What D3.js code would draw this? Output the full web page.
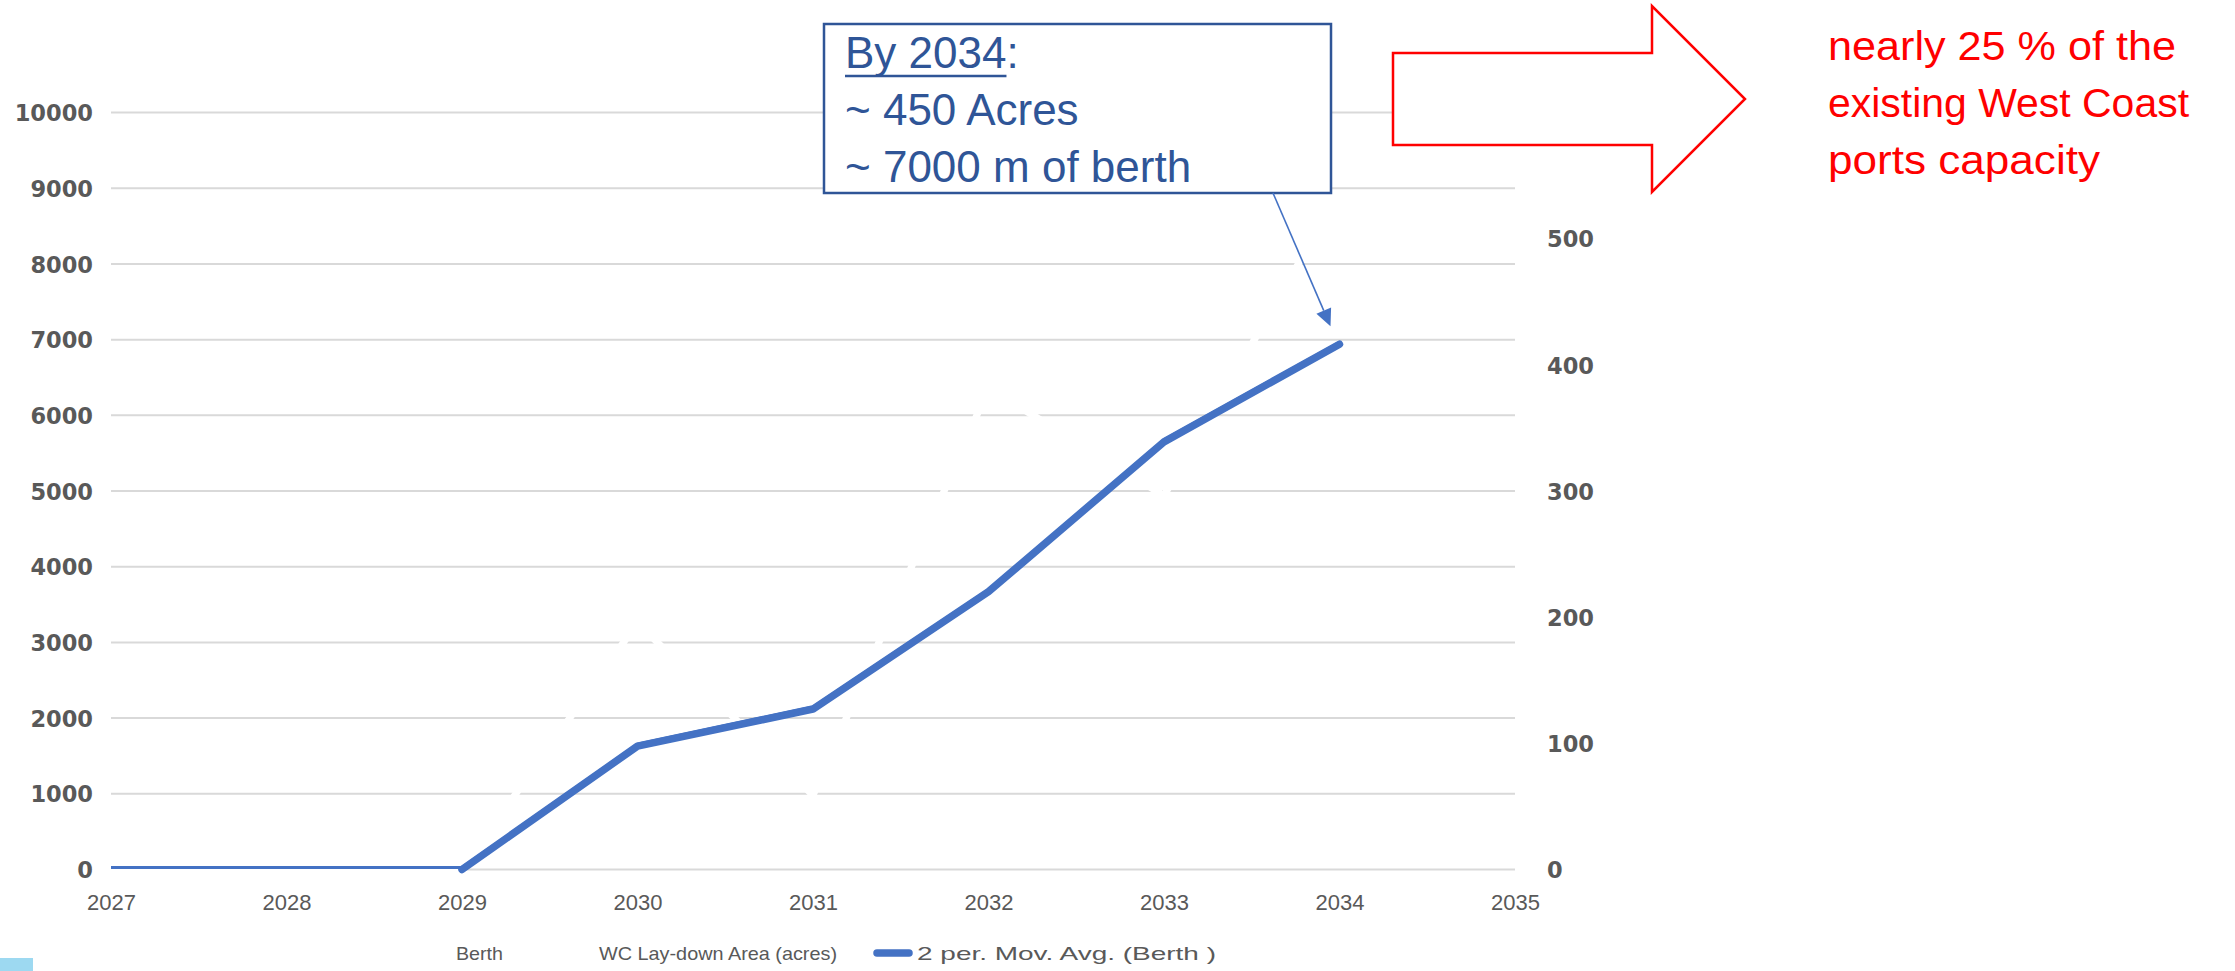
<!DOCTYPE html>
<html>
<head>
<meta charset="utf-8">
<script src="https://cdn.jsdelivr.net/npm/d3@7"></script>
<style>
  html, body { margin: 0; padding: 0; background: #ffffff; }
  svg { display: block; }
</style>
</head>
<body>
<svg id="chart" width="2235" height="971"></svg>
<script>
// ---- data ----
const years = [2027, 2028, 2029, 2030, 2031, 2032, 2033, 2034];
const berth = [0, 0, 0, 3260, 980, 6360, 4940, 8940];          // white series (left axis)
const movAvg = [0, 0, 0, 1630, 2120, 3670, 5650, 6940];        // 2-period moving average of Berth
const xTicks = [2027, 2028, 2029, 2030, 2031, 2032, 2033, 2034, 2035];
const leftTicks = [0, 1000, 2000, 3000, 4000, 5000, 6000, 7000, 8000, 9000, 10000];
const rightTicks = [0, 100, 200, 300, 400, 500, 600];
const legendLabels = ["Berth", "WC Lay-down Area (acres)", "2 per. Mov. Avg. (Berth )"];
const calloutLines = ["By 2034:", "~ 450 Acres", "~ 7000 m of berth"];
const noteLines = ["nearly 25 % of the", "existing West Coast", "ports capacity"];

const svg = d3.select("#chart");
const blue = "#4472c4";
const calloutBlue = "#2f5597";
const grey = "#595959";

// ---- scales ----
const x = d3.scaleLinear().domain([2027, 2035]).range([111, 1515]);
const yL = d3.scaleLinear().domain([0, 10000]).range([869.5, 112.6]);
const yR = d3.scaleLinear().domain([0, 600]).range([869.5, 112.6]);

// ---- gridlines ----
svg.append("g").selectAll("line").data(leftTicks).join("line")
  .attr("x1", x(2027)).attr("x2", x(2035))
  .attr("y1", d => yL(d)).attr("y2", d => yL(d))
  .attr("stroke", "#d9d9d9").attr("stroke-width", 2);

// ---- left axis ----
const leftAxis = svg.append("g").attr("transform", "translate(93,0)")
  .call(d3.axisLeft(yL).tickValues(leftTicks).tickSize(0).tickPadding(0).tickFormat(d3.format("d")));
leftAxis.select(".domain").remove();
leftAxis.selectAll("text")
  .attr("font-family", "DejaVu Sans").attr("font-weight", "bold")
  .attr("font-size", 22.5).attr("fill", grey).attr("dy", "0.36em");

// ---- right axis ----
const rightAxis = svg.append("g").attr("transform", "translate(1547,0)")
  .call(d3.axisRight(yR).tickValues(rightTicks).tickSize(0).tickPadding(0).tickFormat(d3.format("d")));
rightAxis.select(".domain").remove();
rightAxis.selectAll("text")
  .attr("font-family", "DejaVu Sans").attr("font-weight", "bold")
  .attr("font-size", 22.5).attr("fill", grey).attr("dy", "0.36em");

// ---- x axis ----
const xAxis = svg.append("g").attr("transform", "translate(0,894)")
  .call(d3.axisBottom(x).tickValues(xTicks).tickSize(0).tickPadding(0).tickFormat(d3.format("d")));
xAxis.select(".domain").remove();
xAxis.selectAll("text")
  .attr("font-family", "Liberation Sans").attr("font-size", 22)
  .attr("fill", grey).attr("dy", "0.72em");

// ---- series ----
const pts = years.map((yr, i) => ({ yr, berth: berth[i], ma: movAvg[i] }));

// Berth series is drawn in white
svg.append("path").datum(pts)
  .attr("fill", "none").attr("stroke", "#ffffff").attr("stroke-width", 7)
  .attr("d", d3.line().x(d => x(d.yr)).y(d => yL(d.berth)));

// thin moving-average trace along the baseline
svg.append("path").datum(pts)
  .attr("fill", "none").attr("stroke", blue).attr("stroke-width", 3)
  .attr("d", d3.line().x(d => x(d.yr)).y(d => yL(d.ma) - 2));

// thick moving-average line from the first rise
const maStart = pts.findIndex((d, i) => i + 1 < pts.length && pts[i + 1].ma > 0);
svg.append("path").datum(pts.slice(maStart))
  .attr("fill", "none").attr("stroke", blue).attr("stroke-width", 7.5)
  .attr("stroke-linecap", "round").attr("stroke-linejoin", "round")
  .attr("d", d3.line().x(d => x(d.yr)).y(d => yL(d.ma)));

// ---- legend ----
const lg = svg.append("g").attr("font-family", "Liberation Sans").attr("font-size", 19).attr("fill", grey);
lg.append("text").attr("x", 456).attr("y", 960).attr("textLength", 47).attr("lengthAdjust", "spacingAndGlyphs").text(legendLabels[0]);
lg.append("text").attr("x", 599).attr("y", 960).attr("textLength", 238).attr("lengthAdjust", "spacingAndGlyphs").text(legendLabels[1]);
lg.append("line").attr("x1", 877).attr("x2", 909).attr("y1", 953).attr("y2", 953)
  .attr("stroke", blue).attr("stroke-width", 7.5).attr("stroke-linecap", "round");
lg.append("text").attr("x", 917).attr("y", 960).attr("textLength", 299).attr("lengthAdjust", "spacingAndGlyphs").text(legendLabels[2]);

// small corner tab
svg.append("rect").attr("x", 0).attr("y", 958).attr("width", 33).attr("height", 13).attr("fill", "#9dd9f1");

// ---- callout box ----
const box = { x: 824, y: 24, w: 507, h: 169 };
svg.append("rect").attr("x", box.x).attr("y", box.y).attr("width", box.w).attr("height", box.h)
  .attr("fill", "#ffffff").attr("stroke", calloutBlue).attr("stroke-width", 2.5);

const ct = svg.append("g").attr("font-family", "Liberation Sans").attr("font-size", 44).attr("fill", calloutBlue);
const line1 = ct.append("text").attr("x", 845).attr("y", 68);
const byPart = line1.append("tspan").text(calloutLines[0].slice(0, -1));
line1.append("tspan").text(calloutLines[0].slice(-1));
ct.append("text").attr("x", 845).attr("y", 125).text(calloutLines[1]);
ct.append("text").attr("x", 845).attr("y", 182).text(calloutLines[2]);
const byWidth = byPart.node().getComputedTextLength();
svg.append("line").attr("x1", 845).attr("x2", 845 + byWidth).attr("y1", 76).attr("y2", 76)
  .attr("stroke", calloutBlue).attr("stroke-width", 2.5);

// connector arrow from the box to the 2034 value
const tip = { x: x(2034) - 9, y: yL(movAvg[movAvg.length - 1]) - 18 };
const start = { x: 1273, y: box.y + box.h };
const ang = Math.atan2(tip.y - start.y, tip.x - start.x);
const headLen = 17, headHalf = 8;
const bx = tip.x - headLen * Math.cos(ang), by = tip.y - headLen * Math.sin(ang);
svg.append("line").attr("x1", start.x).attr("y1", start.y).attr("x2", bx).attr("y2", by)
  .attr("stroke", blue).attr("stroke-width", 1.6);
svg.append("path")
  .attr("d", `M${tip.x},${tip.y}L${bx + headHalf * Math.sin(ang)},${by - headHalf * Math.cos(ang)}L${bx - headHalf * Math.sin(ang)},${by + headHalf * Math.cos(ang)}Z`)
  .attr("fill", blue);

// ---- red block arrow ----
const ax0 = 1393, ax1 = 1652, ax2 = 1745, bodyTop = 53, bodyBot = 145, headTop = 6, headBot = 192, tipY = 99;
svg.append("path")
  .attr("d", `M${ax0},${bodyTop}L${ax1},${bodyTop}L${ax1},${headTop}L${ax2},${tipY}L${ax1},${headBot}L${ax1},${bodyBot}L${ax0},${bodyBot}Z`)
  .attr("fill", "#ffffff").attr("stroke", "#ff0000").attr("stroke-width", 2.5);

// ---- red note ----
const note = svg.append("g").attr("font-family", "Liberation Sans").attr("font-size", 40).attr("fill", "#ff0000");
const noteWidths = [348, 361, 272];
noteLines.forEach((t, i) => {
  note.append("text").attr("x", 1828).attr("y", 60 + i * 57)
    .attr("textLength", noteWidths[i]).attr("lengthAdjust", "spacingAndGlyphs").text(t);
});
</script>
</body>
</html>
